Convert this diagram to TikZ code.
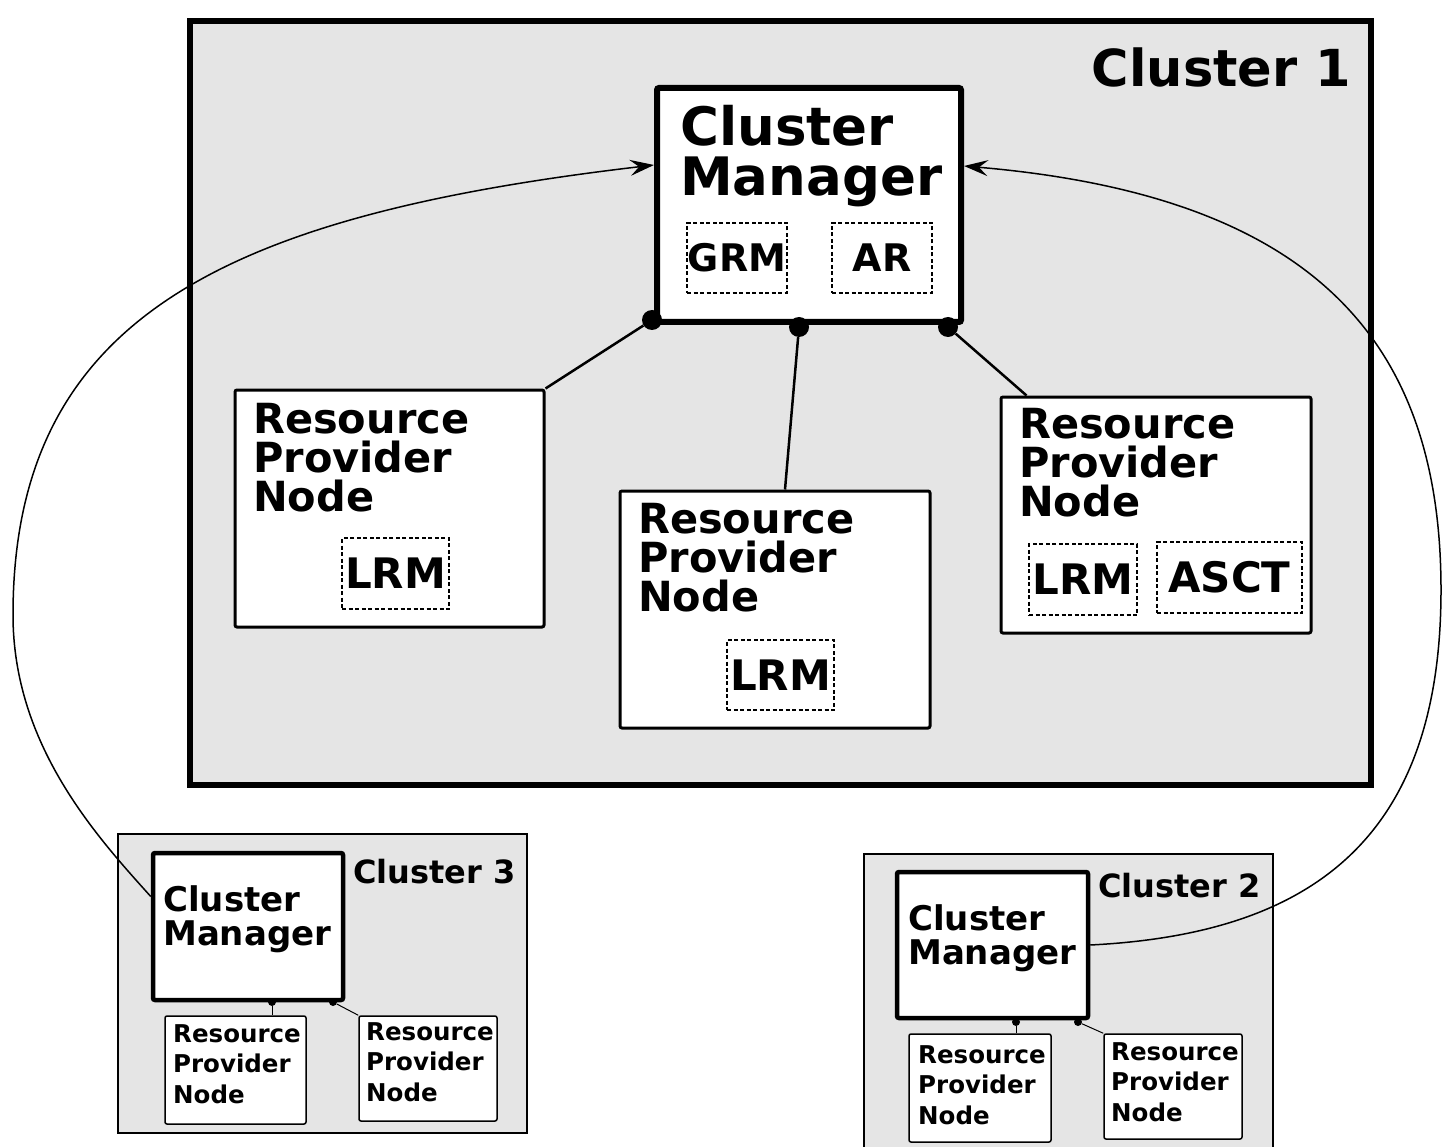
\documentclass[tikz,border=0pt]{standalone}
\usepackage{fontspec}
\setmainfont{DejaVu Sans}
\usetikzlibrary{arrows.meta,calc,positioning}
\definecolor{ClusterGray}{HTML}{E5E5E5}
\newcommand{\bff}[2]{\fontsize{#1}{#2}\selectfont\bfseries}

\begin{document}
\begin{tikzpicture}[x=1pt,y=-1pt,
  cluster/.style={draw,fill=ClusterGray,inner sep=0pt},
  box/.style={draw,fill=white,inner sep=0pt,rounded corners=2pt},
  sub/.style={draw,dash pattern=on 4pt off 2.5pt,line width=2pt,inner sep=0pt},
  txt/.style={anchor=base west,align=left,inner sep=0pt},
  dot/.style={circle,fill,inner sep=0pt},
  link/.style={line width=1.5pt,-{Stealth[length=24pt,width=16pt,inset=9pt]}}]
   \useasboundingbox (0,0) rectangle (1442,1147);
   \clip (0,0) rectangle (1442,1147);

   % Cluster 1
   \node[cluster,line width=6pt,minimum width=1181pt,minimum height=764pt] (cl1) at (780.5,403) {};
   \node[anchor=base east,inner sep=0pt,font=\bff{51}{51}] at (1351,87) {Cluster 1};

   \node[box,line width=6pt,minimum width=304pt,minimum height=234pt] (cm1) at (809,205) {};
   \node[txt,font=\bff{53}{50}] at (680,196) {Cluster\\Manager};
   \node[sub,minimum width=100pt,minimum height=70pt,font=\bff{38}{38}] (grm) at (737,258) {GRM};
   \node[sub,minimum width=100pt,minimum height=70pt,font=\bff{38}{38}] (ar) at (882,258) {AR};

   \node[box,line width=3pt,minimum width=309pt,minimum height=237pt] (rpn1a) at (389.5,508.5) {};
   \node[txt,font=\bff{41.5}{39}] at (253,511) {Resource\\Provider\\Node};
   \node[sub,minimum width=107pt,minimum height=71pt,font=\bff{42}{42}] (lrm1a) at (395.5,573.5) {LRM};

   \node[box,line width=3pt,minimum width=310pt,minimum height=237pt] (rpn1b) at (775,609.5) {};
   \node[txt,font=\bff{41.5}{39}] at (638,611) {Resource\\Provider\\Node};
   \node[sub,minimum width=107pt,minimum height=70pt,font=\bff{42}{42}] (lrm1b) at (780.5,675) {LRM};

   \node[box,line width=3pt,minimum width=310pt,minimum height=236pt] (rpn1c) at (1156,515) {};
   \node[txt,font=\bff{41.5}{39}] at (1019,516) {Resource\\Provider\\Node};
   \node[sub,minimum width=108pt,minimum height=71pt,font=\bff{42}{42}] (lrm1c) at (1083,579.5) {LRM};
   \node[sub,minimum width=145pt,minimum height=71pt,font=\bff{42}{42}] (asct) at (1229.5,577.5) {ASCT};

   \node[dot,minimum size=20pt] (d1a) at (652,320) {};
   \node[dot,minimum size=20pt] (d1b) at (799,327) {};
   \node[dot,minimum size=20pt] (d1c) at (948,327) {};
   \draw[line width=2.5pt] (d1a) -- (rpn1a.north east);
   \draw[line width=2.5pt] (d1b) -- ($(rpn1b.north)+(10,0)$);
   \draw[line width=2.5pt] (d1c) -- ($(rpn1c.north west)+(27,0)$);

   % Cluster 3
   \node[cluster,line width=2pt,minimum width=409pt,minimum height=299pt] (cl3) at (322.5,983.5) {};
   \node[txt,font=\bff{32}{32}] at (353,883) {Cluster 3};
   \node[box,line width=4.5pt,minimum width=190pt,minimum height=147pt] (cm3) at (248,926.5) {};
   \node[txt,font=\bff{34}{34}] at (163,945) {Cluster\\Manager};
   \node[box,line width=1.5pt,minimum width=141pt,minimum height=108pt] (rpn3a) at (235.5,1070) {};
   \node[txt,font=\bff{24.5}{30.5}] at (173,1103) {Resource\\Provider\\Node};
   \node[box,line width=1.5pt,minimum width=138pt,minimum height=105pt] (rpn3b) at (428,1068.5) {};
   \node[txt,font=\bff{24.5}{30.5}] at (366,1101) {Resource\\Provider\\Node};
   \node[dot,minimum size=8pt] (d3a) at (272,1002) {};
   \node[dot,minimum size=8pt] (d3b) at (333,1002) {};
   \draw[line width=1pt] (d3a) -- (d3a |- rpn3a.north);
   \draw[line width=1pt] (d3b) -- (rpn3b.north west);

   % Cluster 2
   \node[cluster,line width=2pt,minimum width=409pt,minimum height=316pt] (cl2) at (1068.5,1012) {};
   \node[txt,font=\bff{32}{32}] at (1098,897) {Cluster 2};
   \node[box,line width=4.5pt,minimum width=191pt,minimum height=146pt] (cm2) at (992.5,945) {};
   \node[txt,font=\bff{34}{34}] at (908,964) {Cluster\\Manager};
   \node[box,line width=1.5pt,minimum width=142pt,minimum height=108pt] (rpn2a) at (980,1088) {};
   \node[txt,font=\bff{24.5}{30.5}] at (918,1124) {Resource\\Provider\\Node};
   \node[box,line width=1.5pt,minimum width=138pt,minimum height=105pt] (rpn2b) at (1173,1086.5) {};
   \node[txt,font=\bff{24.5}{30.5}] at (1111,1121) {Resource\\Provider\\Node};
   \node[dot,minimum size=8pt] (d2a) at (1016,1022) {};
   \node[dot,minimum size=8pt] (d2b) at (1078,1022) {};
   \draw[line width=1pt] (d2a) -- (d2a |- rpn2a.north);
   \draw[line width=1pt] (d2b) -- (rpn2b.north west);

   % links between the managers
   \coordinate (farleft) at (13,615);
   \coordinate (farright) at (1441,590);
   \draw[link] ($(cm3.west)+(0,-30)$) .. controls +(-54,-60) and +(0,130) .. (farleft)
    .. controls +(0,-300) and +(-425,50) .. ($(cm1.west)+(0,-40)$);
   \draw[link] (cm2.east) .. controls +(220,-11) and +(0,250) .. (farright)
    .. controls +(0,-250) and +(349,30) .. ($(cm1.east)+(0,-39)$);
  \end{tikzpicture}
\end{document}
